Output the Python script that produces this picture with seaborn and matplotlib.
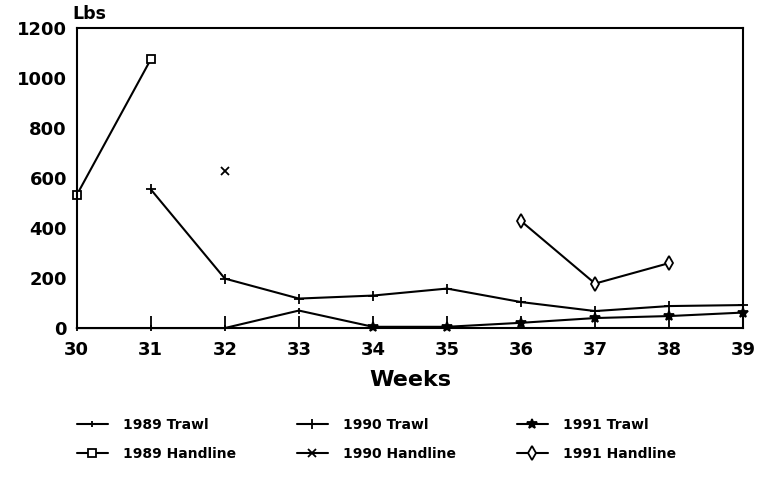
## WEEKLY LANDINGS BY GEAR AND YEAR

## LOAD LIBRARIES
import pandas as pd
import numpy as np
import matplotlib
matplotlib.use('Agg')
import matplotlib.pyplot as plt
import seaborn as sns


## DATA
weeks_89_trawl = [30, 31, 32, 33, 34]
lbs_89_trawl = [0, 0, 0, 70, 5]

weeks_89_hand = [30, 31]
lbs_89_hand = [532, 1075]

weeks_90_trawl = [31, 32, 33, 34, 35, 36, 37, 38, 39]
lbs_90_trawl = [555, 198, 118, 130, 158, 104, 68, 88, 92]

weeks_90_hand = [32]
lbs_90_hand = [630]

weeks_91_trawl = [34, 35, 36, 37, 38, 39]
lbs_91_trawl = [5, 5, 21, 40, 48, 62]

weeks_91_hand = [36, 37, 38]
lbs_91_hand = [428, 178, 260]

x_ticks = list(range(30, 40))
y_ticks = [0, 200, 400, 600, 800, 1000, 1200]

#### Order follows legend columns (filled column by column)
series = [
    ('1989 Trawl', weeks_89_trawl, lbs_89_trawl, '|', 'black', 4),
    ('1989 Handline', weeks_89_hand, lbs_89_hand, 's', 'white', 6),
    ('1990 Trawl', weeks_90_trawl, lbs_90_trawl, '+', 'black', 7),
    ('1990 Handline', weeks_90_hand, lbs_90_hand, 'x', 'black', 6),
    ('1991 Trawl', weeks_91_trawl, lbs_91_trawl, '*', 'black', 7),
    ('1991 Handline', weeks_91_hand, lbs_91_hand, 'd', 'white', 7),
]


## STYLE
sns.set_style('ticks')
plt.rcParams['font.family'] = ['DejaVu Sans']
plt.rcParams['font.weight'] = 'bold'
plt.rcParams['text.color'] = 'black'
plt.rcParams['xtick.color'] = 'black'
plt.rcParams['ytick.color'] = 'black'
plt.rcParams['axes.labelcolor'] = 'black'


## PLOT
fig = plt.figure(figsize=(7.67, 4.86), dpi=100)
ax = fig.add_axes([0.100, 0.325, 0.869, 0.617])

for name, wk, lbs, mk, fc, ms in series:
    df = pd.DataFrame({'week': wk, 'lbs': lbs})
    sns.lineplot(data=df, x='week', y='lbs', ax=ax, color='black',
                 linewidth=1.5, marker=mk, markersize=ms,
                 markerfacecolor=fc, markeredgecolor='black',
                 markeredgewidth=1.3, label=name, clip_on=False)

#### Axes format
ax.set_xlim(30, 39)
ax.set_ylim(0, 1200)
ax.set_xticks(x_ticks)
ax.set_yticks(y_ticks)
ax.tick_params(axis='x', direction='in', length=9, width=1.3,
               labelsize=13, pad=9)
ax.tick_params(axis='y', length=0, labelsize=13, pad=7)
for lbl in ax.get_xticklabels() + ax.get_yticklabels():
    lbl.set_fontweight('bold')
for sp in ax.spines.values():
    sp.set_linewidth(1.5)
    sp.set_color('black')

ax.set_xlabel('Weeks', fontsize=16, fontweight='bold', labelpad=8)
ax.set_ylabel('')
fig.text(0.095, 0.972, 'Lbs', fontsize=12.5, fontweight='bold',
         ha='left', va='center')

#### Legend below the plot
ax.legend(loc='upper left', bbox_to_anchor=(77 / 767, 1 - 418 / 486),
          bbox_transform=fig.transFigure, ncol=3, frameon=False,
          prop={'size': 10, 'weight': 'bold'}, borderpad=0,
          borderaxespad=0, handlelength=2.2, handletextpad=1.1,
          columnspacing=4.4, labelspacing=1.05)

plt.savefig('out.png', dpi=100)
